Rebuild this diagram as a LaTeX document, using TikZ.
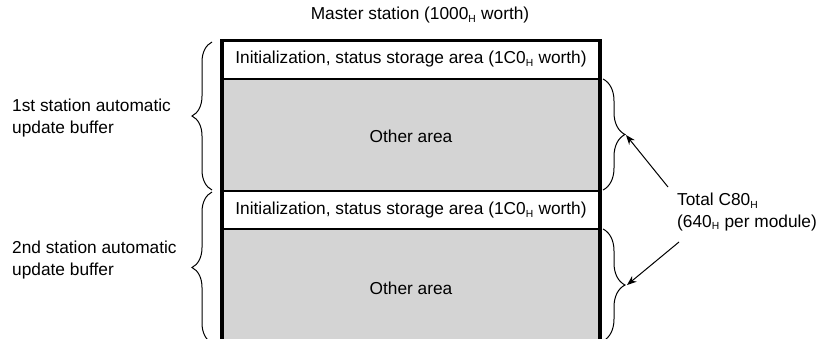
\documentclass[tikz,border=0pt]{standalone}
\usepackage{fontspec}
\setmainfont{Liberation Sans}
\usetikzlibrary{arrows.meta,positioning,calc,decorations.pathreplacing}
\newcommand{\hsub}{\textsubscript{\scalebox{0.85}{H}}}

\begin{document}
\begin{tikzpicture}[x=1pt,y=-1pt,every node/.style={font=\fontsize{17.3}{21.5}\selectfont},
 area/.style={fill=black!17,draw=none},
 lbl/.style={align=left,anchor=west,inner sep=0pt},
 wall/.style={line width=3.5pt},
 sep/.style={line width=2pt},
 brc/.style={decorate,decoration={brace,amplitude=#1},line width=1pt},
 arr/.style={-{Stealth[length=3.4mm,width=2.6mm]},line width=1pt}]
\useasboundingbox (0,0) rectangle (826,338);
\clip (0,0) rectangle (826,338);
% memory areas
\fill[area] (222,79) rectangle (600,191);
\fill[area] (222,229) rectangle (600,345);
\node (init1) at (411,59) {Initialization, status storage area (1C0\hsub{} worth)};
\node (other1) at (411,136) {Other area};
\node (init2) at (411,210) {Initialization, status storage area (1C0\hsub{} worth)};
\node (other2) at (411,288) {Other area};
\node (master) at (420,15) {Master station (1000\hsub{} worth)};
% outline
\draw[wall] (222,345) -- (222,40.5) -- (600,40.5) -- (600,345);
\draw[sep] (222,79) -- (600,79);
\draw[sep] (222,191) -- (600,191);
\draw[sep] (222,229) -- (600,229);
% left braces
\draw[brc=20pt] (212,190) -- (212,42);
\draw[brc=20pt] (212,343) -- (212,192);
\node[lbl] (buf1) at (12,118) {1st station automatic\\update buffer};
\node[lbl] (buf2) at (12,260) {2nd station automatic\\update buffer};
% right braces
\draw[brc=22pt] (603,79) -- (603,190);
\draw[brc=22pt] (603,229) -- (603,341);
\coordinate (tip1) at (626,135);
\coordinate (tip2) at (627,285);
\node[lbl] (total) at (677,212) {Total C80\hsub\\(640\hsub{} per module)};
\draw[arr] (668,187) -- (tip1);
\draw[arr] (679,242) -- (tip2);
\end{tikzpicture}
\end{document}
